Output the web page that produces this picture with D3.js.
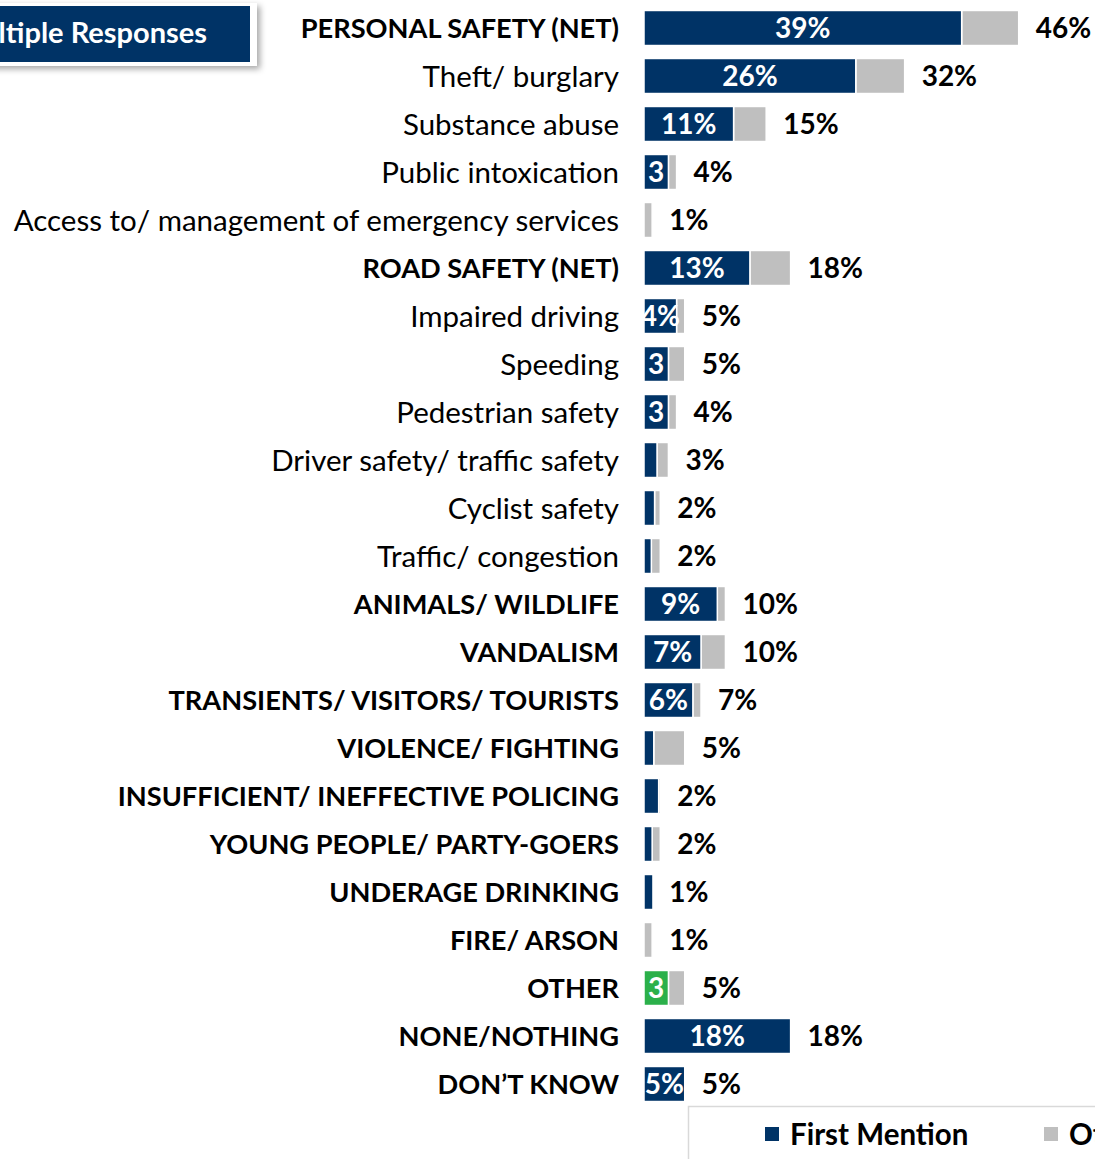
<!DOCTYPE html>
<html>
<head>
<meta charset="utf-8">
<script src="https://cdn.jsdelivr.net/npm/d3@7"></script>
<style>
  html, body { margin: 0; padding: 0; background: #fff; overflow: hidden; }
  svg { display: block; font-family: Lato, "Open Sans", sans-serif; }
</style>
</head>
<body>
<svg id="chart" width="1095" height="1159"></svg>
<script>
// Concerns mentioned, first mention vs. total mentions (%)
const categories = [
  "PERSONAL SAFETY (NET)",
  "Theft/ burglary",
  "Substance abuse",
  "Public intoxication",
  "Access to/ management of emergency services",
  "ROAD SAFETY (NET)",
  "Impaired driving",
  "Speeding",
  "Pedestrian safety",
  "Driver safety/ traffic safety",
  "Cyclist safety",
  "Traffic/ congestion",
  "ANIMALS/ WILDLIFE",
  "VANDALISM",
  "TRANSIENTS/ VISITORS/ TOURISTS",
  "VIOLENCE/ FIGHTING",
  "INSUFFICIENT/ INEFFECTIVE POLICING",
  "YOUNG PEOPLE/ PARTY-GOERS",
  "UNDERAGE DRINKING",
  "FIRE/ ARSON",
  "OTHER",
  "NONE/NOTHING",
  "DON\u2019T KNOW"
];

// First mention share
const firstMention = [39, 26, 11, 3, 0, 13, 4, 3, 3, 1.6, 1.3, 0.9, 9, 7, 6, 1.2, 1.8, 1.0, 1.1, 0, 3, 18, 5];

// Total mentions (first + other)
const totalMention = [46, 32, 15, 4, 1, 18, 5, 5, 4, 3, 2, 2, 10, 10, 7, 5, 2, 2, 1, 1, 5, 18, 5];

// Text shown inside the first-mention segment
const insideLabels = ["39%", "26%", "11%", "3", "", "13%", "4%", "3", "3", "", "", "", "9%", "7%", "6%", "", "", "", "", "", "3", "18%", "5%"];

const legendLabels = ["First Mention", "Other Mention"];

const navy = "#003366";
const grey = "#bfbfbf";
const green = "#2bb04a";

const valueSize = 28;
const headingSize = 27.2;
const regularSize = 29.5;

const svg = d3.select("#chart");

const x = d3.scaleLinear().domain([0, 55]).range([644, 1092]);
const y = d3.scaleBand().domain(categories).range([4, 4 + categories.length * 48])
  .paddingInner(0.27).paddingOuter(0.135);

const rows = categories.map((c, i) => ({
  cat: c,
  first: firstMention[i],
  total: totalMention[i],
  inside: insideLabels[i],
  heading: c === c.toUpperCase()
}));

const defs = svg.append("defs");

// Clip inside labels to the plot area
defs.append("clipPath").attr("id", "plotClip")
  .append("rect").attr("x", x(0)).attr("y", 0).attr("width", 1095 - x(0)).attr("height", 1159);

// Other-mention segment (from first mention to total)
svg.append("g").selectAll("rect").data(rows.filter(d => d.total > d.first)).join("rect")
  .attr("x", d => x(d.first))
  .attr("y", d => y(d.cat))
  .attr("width", d => x(d.total) - x(d.first))
  .attr("height", y.bandwidth())
  .attr("fill", grey)
  .attr("stroke", "#fff")
  .attr("stroke-width", 1.5);

// First-mention segment
svg.append("g").selectAll("rect").data(rows.filter(d => d.first > 0)).join("rect")
  .attr("x", x(0))
  .attr("y", d => y(d.cat))
  .attr("width", d => x(d.first) - x(0))
  .attr("height", y.bandwidth())
  .attr("fill", d => d.cat === "OTHER" ? green : navy)
  .attr("stroke", "#fff")
  .attr("stroke-width", 1.5);

// Inside labels
svg.append("g").attr("clip-path", "url(#plotClip)")
  .selectAll("text").data(rows.filter(d => d.inside)).join("text")
  .attr("x", d => (x(0) + x(d.first)) / 2)
  .attr("y", d => y(d.cat) + y.bandwidth() / 2)
  .attr("dy", "0.36em")
  .attr("text-anchor", "middle")
  .attr("fill", "#fff")
  .attr("font-weight", 700)
  .attr("font-size", valueSize)
  .text(d => d.inside);

// Total labels
svg.append("g").selectAll("text").data(rows).join("text")
  .attr("x", d => x(d.total) + 17)
  .attr("y", d => y(d.cat) + y.bandwidth() / 2)
  .attr("dy", "0.36em")
  .attr("fill", "#000")
  .attr("font-weight", 700)
  .attr("font-size", valueSize)
  .text(d => d.total + "%");

// Category axis labels
svg.append("g").selectAll("text").data(rows).join("text")
  .attr("x", 619)
  .attr("y", d => y(d.cat) + y.bandwidth() / 2)
  .attr("dy", "0.36em")
  .attr("text-anchor", "end")
  .attr("fill", "#000")
  .attr("font-weight", d => d.heading ? 700 : 400)
  .attr("font-size", d => d.heading ? headingSize : regularSize)
  .text(d => d.cat);

// Badge, top left
const badge = svg.append("g");
defs.append("filter").attr("id", "shadow")
  .attr("x", "-20%").attr("y", "-30%").attr("width", "140%").attr("height", "170%")
  .append("feDropShadow").attr("dx", 3).attr("dy", 3).attr("stdDeviation", 3)
  .attr("flood-color", "#000").attr("flood-opacity", 0.35);
badge.append("rect")
  .attr("x", -20).attr("y", 3).attr("width", 277).attr("height", 63)
  .attr("fill", "#fff").attr("filter", "url(#shadow)");
badge.append("rect")
  .attr("x", -20).attr("y", 6).attr("width", 270).attr("height", 56)
  .attr("fill", navy);
badge.append("text")
  .attr("x", 207).attr("y", 33).attr("dy", "0.36em")
  .attr("text-anchor", "end").attr("fill", "#fff")
  .attr("font-weight", 700).attr("font-size", 29)
  .text("Multiple Responses");

// Legend
const legend = svg.append("g");
legend.append("rect")
  .attr("x", 688.5).attr("y", 1106.5).attr("width", 440).attr("height", 80)
  .attr("fill", "#fff").attr("stroke", "#d9d9d9").attr("stroke-width", 1.5);
const legendItems = [
  { label: legendLabels[0], color: navy, x: 765 },
  { label: legendLabels[1], color: grey, x: 1044 }
];
legendItems.forEach(it => {
  legend.append("rect").attr("x", it.x).attr("y", 1127).attr("width", 14).attr("height", 14).attr("fill", it.color);
  legend.append("text").attr("x", it.x + 25).attr("y", 1134).attr("dy", "0.36em")
    .attr("font-weight", 700).attr("font-size", 29.5).attr("fill", "#000").text(it.label);
});
</script>
</body>
</html>
